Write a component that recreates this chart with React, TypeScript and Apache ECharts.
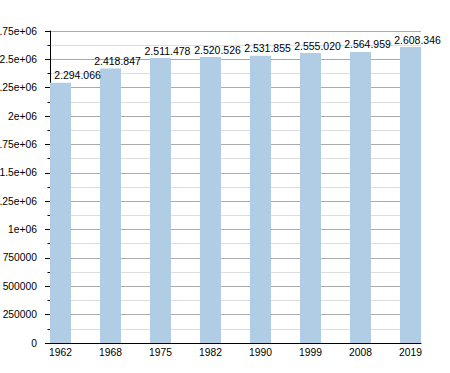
import React, { useEffect, useRef } from "react";
import * as echarts from "echarts";

const years = ["1962", "1968", "1975", "1982", "1990", "1999", "2008", "2019"];
const population = [2294066, 2418847, 2511478, 2520526, 2531855, 2555020, 2564959, 2608346];
const yMax = 2750000;
const yStep = 250000;

const FONT = "'Liberation Sans', Arial, sans-serif";

function fmtDots(v: number): string {
  return String(v).replace(/\B(?=(\d{3})+(?!\d))/g, ".");
}

function fmtAxis(v: number): string {
  if (v === 0) return "0";
  if (v >= 1e6) return String(+(v / 1e6).toFixed(4)) + "e+06";
  return String(v);
}

export default function App() {
  const ref = useRef<HTMLDivElement>(null);
  useEffect(() => {
    if (!ref.current) return;
    const chart = echarts.init(ref.current, undefined, { renderer: "svg" });
    chart.setOption({
      animation: false,
      textStyle: { fontFamily: FONT },
      grid: [
        { left: 50, right: 29, top: 31, bottom: 30, containLabel: false, outerBoundsMode: "none" },
        { left: 60.5, right: 39.5, top: 31, bottom: 30, containLabel: false, outerBoundsMode: "none" },
      ],
      xAxis: [
        {
          type: "value",
          gridIndex: 0,
          min: 0,
          max: 1,
          axisLine: { show: true, onZero: false, lineStyle: { color: "#000", width: 1 } },
          axisTick: { show: false },
          axisLabel: { show: false },
          splitLine: { show: false },
        },
        {
          type: "category",
          gridIndex: 1,
          data: years,
          boundaryGap: false,
          axisLine: { show: false },
          axisTick: { show: false },
          axisLabel: { show: true, color: "#000", fontSize: 10.3, fontFamily: FONT, margin: 4, interval: 0 },
          splitLine: { show: false },
        },
      ],
      yAxis: [
        {
          type: "value",
          gridIndex: 0,
          min: 0,
          max: yMax,
          interval: yStep,
          axisLine: { show: true, lineStyle: { color: "#000", width: 1 } },
          axisTick: { show: true, length: 5, lineStyle: { color: "#000" } },
          minorTick: { show: true, splitNumber: 2, length: 2.5, lineStyle: { color: "#000" } },
          axisLabel: {
            show: true,
            color: "#000",
            fontSize: 10.3,
            fontFamily: FONT,
            margin: 13,
            formatter: (v: number) => fmtAxis(v),
          },
          splitLine: { show: true, lineStyle: { color: "#aaaaaa", width: 1 } },
          minorSplitLine: { show: true, lineStyle: { color: "#dddddd", width: 1 } },
        },
        {
          type: "value",
          gridIndex: 1,
          min: 0,
          max: yMax,
          show: false,
          splitLine: { show: false },
        },
      ],
      series: [
        {
          type: "bar",
          xAxisIndex: 1,
          yAxisIndex: 1,
          data: population.map((v, i) =>
            i === 0
              ? { value: v, label: { show: true, position: "top", distance: 2, offset: [17, 0] } }
              : v
          ),
          barWidth: 21,
          itemStyle: { color: "#b1cce5" },
          label: {
            show: true,
            position: "top",
            distance: 2,
            offset: [7, 0],
            color: "#000",
            fontSize: 10.5,
            fontFamily: FONT,
            formatter: (p: any) => fmtDots(p.value),
          },
        },
      ],
    });
    return () => chart.dispose();
  }, []);
  return (
    <div
      ref={ref}
      style={{ position: "fixed", left: 0, top: 0, width: 450, height: 373, background: "#fff" }}
    />
  );
}
